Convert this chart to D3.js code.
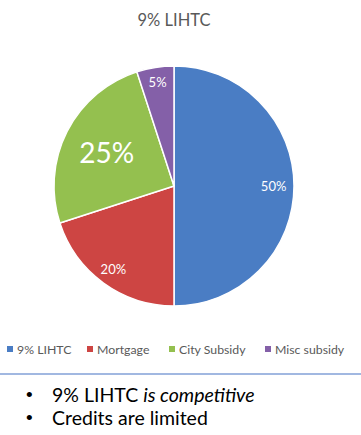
<!DOCTYPE html>
<html><head><meta charset="utf-8">
<script src="https://cdn.jsdelivr.net/npm/d3@7"></script>
<style>body{margin:0;background:#fff;}svg{display:block;}</style>
</head><body>
<svg id="c" width="361" height="435"></svg>
<script>
const title = "9% LIHTC";
const categories = ["9% LIHTC", "Mortgage", "City Subsidy", "Misc subsidy"];
const values = [50, 20, 25, 5];
const colors = ["#4a7dc4", "#cd4543", "#94c04f", "#8460a8"];
const labelSizes = [13, 13, 28, 13];
const labelRadii = [0.83, 0.86, 0.63, 0.875];
const bullets = [
  [{t: "9% LIHTC ", i: false}, {t: "is competitive", i: true}],
  [{t: "Credits are limited", i: false}]
];

const svg = d3.select("#c");
const font = "Lato, 'Open Sans', sans-serif";
const cx = 174, cy = 186, r = 120;

svg.append("text").attr("x", 174).attr("y", 26).attr("text-anchor", "middle")
  .attr("font-family", font).attr("font-size", 16.5).attr("fill", "#595959").text(title);

const pie = d3.pie().sort(null).value(d => d)(values);
const arc = d3.arc().innerRadius(0).outerRadius(r);
const g = svg.append("g").attr("transform", `translate(${cx},${cy})`);
g.selectAll("path").data(pie).join("path")
  .attr("d", arc).attr("fill", (d, i) => colors[i])
  .attr("stroke", "#fff").attr("stroke-width", 1.5);

g.selectAll("text").data(pie).join("text")
  .attr("transform", (d, i) => {
    const la = d3.arc().innerRadius(r * labelRadii[i]).outerRadius(r * labelRadii[i]);
    return `translate(${la.centroid(d)})`;
  })
  .attr("text-anchor", "middle").attr("dominant-baseline", "central")
  .attr("font-family", font).attr("font-size", (d, i) => labelSizes[i])
  .attr("fill", "#fff").text(d => Math.round(d.data) + "%");

// legend
const legX = [7, 87, 169, 265];
const lg = svg.append("g").attr("font-family", font).attr("font-size", 12.3).attr("fill", "#595959");
categories.forEach((c, i) => {
  lg.append("rect").attr("x", legX[i]).attr("y", 346).attr("width", 6).attr("height", 6).attr("fill", colors[i]);
  lg.append("text").attr("x", legX[i] + 10).attr("y", 353.5).text(c);
});

svg.append("line").attr("x1", 0).attr("x2", 361).attr("y1", 374).attr("y2", 374)
  .attr("stroke", "#4472c4").attr("stroke-width", 1.2);

const bg = svg.append("g").attr("font-family", font).attr("font-size", 19.5).attr("fill", "#000");
bullets.forEach((b, k) => {
  const y = 402 + k * 23;
  bg.append("text").attr("x", 26).attr("y", y - 1).attr("font-family", "'Liberation Sans', Arial, sans-serif").attr("font-size", 19).text("•");
  const t = bg.append("text").attr("x", 52).attr("y", y);
  b.forEach(s => t.append("tspan").attr("font-style", s.i ? "italic" : "normal").text(s.t));
});
</script>
</body></html>
